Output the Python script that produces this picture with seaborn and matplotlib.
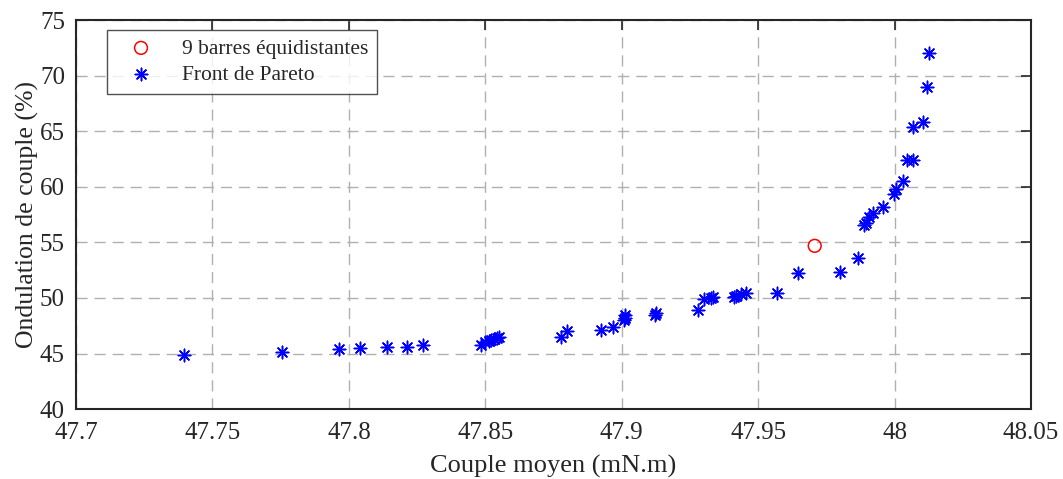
import numpy as np
import pandas as pd
import matplotlib
matplotlib.use("Agg")
import matplotlib.pyplot as plt
import seaborn as sns

# --- DONNEES ---
pareto_x = [47.7394, 47.7755, 47.7962, 47.8042, 47.8140, 47.8213, 47.8272,
            47.8485, 47.8500, 47.8512, 47.8522, 47.8532, 47.8542, 47.8550,
            47.8776, 47.8798, 47.8925, 47.8967, 47.9008, 47.9010, 47.9012,
            47.9120, 47.9126, 47.9280, 47.9301, 47.9326, 47.9334, 47.9411,
            47.9418, 47.9436, 47.9454, 47.9568, 47.9644, 47.9800, 47.9866,
            47.9888, 47.9894, 47.9906, 47.9919, 47.9959, 47.9996, 48.0004,
            48.0029, 48.0044, 48.0066, 48.0066, 48.0102, 48.0118, 48.0127]
pareto_y = [44.85, 45.14, 45.45, 45.50, 45.60, 45.60, 45.80,
            45.80, 46.00, 46.10, 46.20, 46.30, 46.40, 46.45,
            46.50, 47.00, 47.15, 47.40, 48.00, 48.20, 48.45,
            48.50, 48.65, 48.90, 49.90, 50.00, 50.10, 50.10,
            50.20, 50.35, 50.45, 50.45, 52.20, 52.35, 53.55,
            56.55, 56.76, 57.30, 57.60, 58.20, 59.34, 59.76,
            60.54, 62.40, 62.40, 65.34, 65.85, 68.94, 72.00]
equi_x = [47.9707]
equi_y = [54.69]

sns.set_style("white")
plt.rcParams["font.family"] = ["Liberation Serif", "DejaVu Serif"]

fig = plt.figure(figsize=(10.63, 4.79), dpi=100)
ax = fig.add_axes([0.0715, 0.146, 0.8985, 0.812])

sns.scatterplot(x=equi_x, y=equi_y, ax=ax, marker="o", s=85,
                facecolor="none", edgecolor="red", linewidth=1.1,
                label="9 barres équidistantes", zorder=3)
sns.scatterplot(x=pareto_x, y=pareto_y, ax=ax, marker=(8, 2, 0), s=80,
                color="blue", edgecolor="blue", linewidth=1.1,
                label="Front de Pareto", zorder=3)

ax.set_xlim(47.7, 48.05)
ax.set_ylim(40, 75)
ax.set_xticks([47.7, 47.75, 47.8, 47.85, 47.9, 47.95, 48, 48.05])
ax.set_xticklabels(["47.7", "47.75", "47.8", "47.85", "47.9", "47.95", "48", "48.05"])
ax.set_yticks([40, 45, 50, 55, 60, 65, 70, 75])

ax.grid(True, color="#b0b0b0", linestyle=(0, (8, 5)), linewidth=1)
ax.tick_params(direction="in", top=True, right=True, length=7, width=1.2,
               labelsize=18, colors="#262626", labelcolor="#262626")
ax.tick_params(axis="x", pad=9)
ax.tick_params(axis="y", pad=8)
for sp in ax.spines.values():
    sp.set_color("#262626")
    sp.set_linewidth(1.5)

ax.set_xlabel("Couple moyen (mN.m)", fontsize=19, color="#262626", labelpad=8)
ax.set_ylabel("Ondulation de couple (%)", fontsize=18.5, color="#262626", labelpad=1)

leg = ax.legend(loc="upper left", bbox_to_anchor=(0.032, 0.975), fontsize=15.5,
                frameon=True, fancybox=False, edgecolor="#262626",
                borderpad=0.4, handletextpad=0.7, labelspacing=0.3,
                borderaxespad=0, handlelength=2.4)
leg.get_frame().set_linewidth(1)

plt.savefig("out.png", dpi=100)
